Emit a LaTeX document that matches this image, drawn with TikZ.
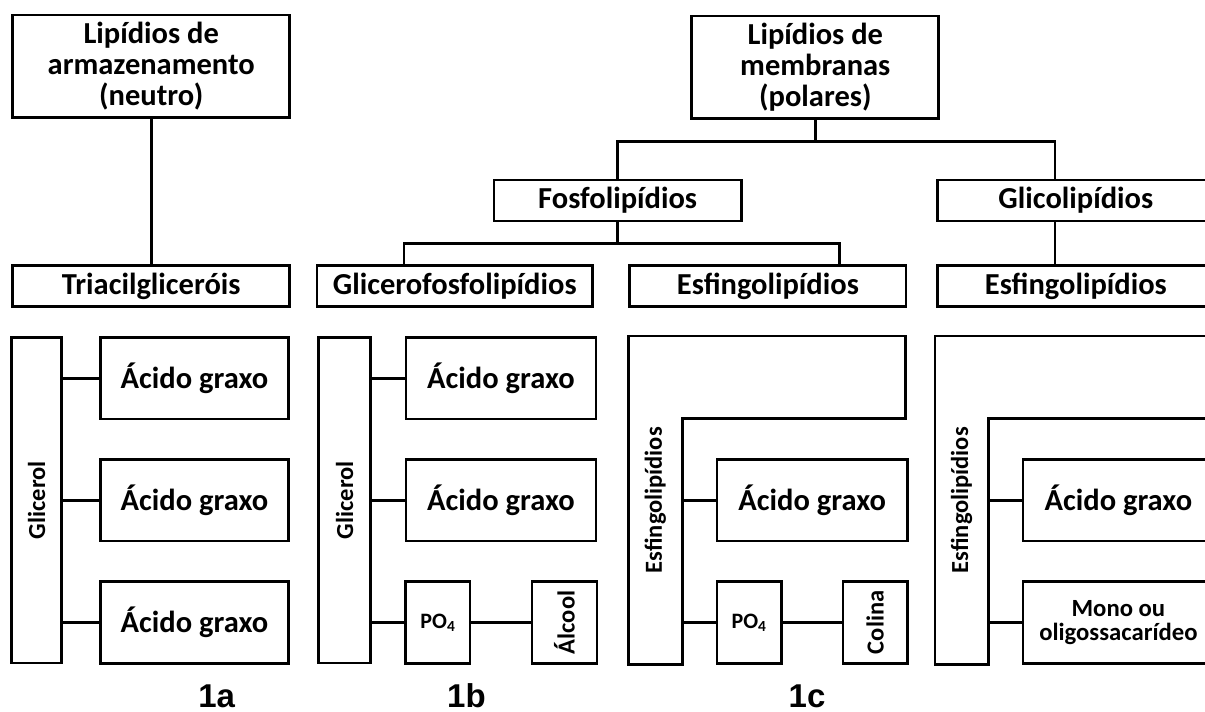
\documentclass[tikz,border=0pt]{standalone}
\usepackage{fontspec}
\setmainfont{Carlito}
\newfontfamily\labelfont{Liberation Sans}
\usetikzlibrary{positioning,calc}
\tikzset{
	big text/.style={font=\bfseries\fontsize{30.5}{31}\selectfont}, % box titles
	small text/.style={font=\bfseries\fontsize{24.5}{24}\selectfont}, % narrow boxes
}

\begin{document}
\begin{tikzpicture}[x=1pt, y=-1pt, line width=2.8pt]
	\tikzstyle{box} = [rectangle, draw=black, inner sep=0pt, text centered, align=center]
	\tikzstyle{head} = [box, big text, minimum height=41pt]
	\tikzstyle{acido} = [box, big text, minimum width=190pt, minimum height=81.5pt]
	\tikzstyle{bar} = [box, small text, minimum width=51pt, minimum height=325.7pt]
	\tikzstyle{small} = [box, small text, minimum width=64.5pt, minimum height=81.5pt]
	\tikzstyle{fosfato} = [small, minimum width=64.3pt, font=\bfseries\fontsize{22}{22}\selectfont]
	\tikzstyle{label} = [font=\labelfont\bfseries\fontsize{33}{33}\selectfont, inner sep=0pt, anchor=base]
	\useasboundingbox (0,0) rectangle (1205,712);
	\clip (0,0) rectangle (1205,712);
	% upper tree
	\node (armazen)[box, big text, minimum width=277pt, minimum height=102.3pt] at (151.2, 66.2) {Lipídios de\\armazenamento\\(neutro)};
	\node (membranas)[box, big text, minimum width=247pt, minimum height=102.3pt] at (815.3, 67.2) {Lipídios de\\membranas\\(polares)};
	\node (fosfo)[head, minimum width=247.2pt] at (617.6, 200.4) {Fosfolipídios};
	\node (glico)[head, minimum width=276.3pt] at (1075.8, 200.4) {Glicolipídios};
	\node (triacil)[head, minimum width=277pt] at (151.2, 286.2) {Triacilgliceróis};
	\node (glicerofosfo)[head, minimum width=275.4pt] at (454.7, 286.2) {Glicerofosfolipídios};
	\node (esfingo)[head, minimum width=276.3pt] at (767.9, 286.2) {Esfingolipídios};
	\node (esfingo2)[head, minimum width=276.3pt] at (1075.8, 286.2) {Esfingolipídios};
	\coordinate (membranas fork) at (815.3, 141.7);
	\coordinate (fosfo fork) at (617.6, 243.3);
	\coordinate (glicerofosfo x) at (404, 0);
	\coordinate (esfingo x) at (839.2, 0);
	\coordinate (glico x) at (1055, 0);
	\draw (armazen) -- (triacil);
	\draw (membranas) -- (membranas fork) -| (fosfo);
	\draw (membranas fork) -| (glico.north -| glico x);
	\draw (fosfo) -- (fosfo fork);
	\draw (glicerofosfo.north -| glicerofosfo x) |- (fosfo fork) -| (esfingo.north -| esfingo x);
	\draw (glico.south -| glico x) -- (esfingo2.north -| glico x);
	% 1a
	\node (glicerolA)[bar, minimum width=50pt] at (36.7, 500.2) {\rotatebox{90}{Glicerol}};
	\node (acidoA1)[acido, minimum width=187.6pt] at (194.5, 378.2) {Ácido graxo};
	\node (acidoA2)[acido, minimum width=187.6pt] at (194.5, 500.3) {Ácido graxo};
	\node (acidoA3)[acido, minimum width=187.6pt] at (194.5, 622.4) {Ácido graxo};
	\draw (glicerolA.east |- acidoA1) -- (acidoA1);
	\draw (glicerolA.east |- acidoA2) -- (acidoA2);
	\draw (glicerolA.east |- acidoA3) -- (acidoA3);
	% 1b
	\node (glicerolB)[bar, minimum width=52pt] at (344.5, 500.2) {\rotatebox{90}{Glicerol}};
	\node (acidoB1)[acido] at (501, 378.2) {Ácido graxo};
	\node (acidoB2)[acido] at (501, 500.3) {Ácido graxo};
	\node (fosfatoB)[fosfato] at (437.9, 622.4) {PO\textsubscript{4}};
	\node (alcool)[small, minimum width=65pt] at (564.5, 622.4) {\rotatebox{90}{Álcool}};
	\draw (glicerolB.east |- acidoB1) -- (acidoB1);
	\draw (glicerolB.east |- acidoB2) -- (acidoB2);
	\draw (glicerolB.east |- fosfatoB) -- (fosfatoB) -- (alcool);
	% 1c
	\node (esfingoC)[bar, draw=none, minimum width=51.3pt] at (655.3, 500.2) {\rotatebox{90}{Esfingolipídios}};
	\draw (esfingoC.south west) -- (esfingoC.north west) -- ++(277.5,0) -- ++(0,82.3) -| (esfingoC.south east) -- cycle;
	\node (acidoC)[acido, minimum width=190.5pt] at (812.2, 500.3) {Ácido graxo};
	\node (fosfatoC)[fosfato] at (749.1, 622.4) {PO\textsubscript{4}};
	\node (colina)[small] at (875.2, 622.4) {\rotatebox{90}{Colina}};
	\draw (esfingoC.east |- acidoC) -- (acidoC);
	\draw (esfingoC.east |- fosfatoC) -- (fosfatoC) -- (colina);
	% 1d
	\node (esfingoD)[bar, draw=none, minimum width=50.6pt] at (961.7, 500.2) {\rotatebox{90}{Esfingolipídios}};
	\draw (esfingoD.south west) -- (esfingoD.north west) -- ++(277.5,0) -- ++(0,82.3) -| (esfingoD.south east) -- cycle;
	\node (acidoD)[acido, minimum width=190.8pt] at (1118.4, 500.3) {Ácido graxo};
	\node (mono)[acido, minimum width=190.8pt, font=\bfseries\fontsize{24.7}{23.5}\selectfont] at (1118.4, 622.4) {Mono ou\\oligossacarídeo};
	\draw (esfingoD.east |- acidoD) -- (acidoD);
	\draw (esfingoD.east |- mono) -- (mono);
	% labels
	\node (labelA)[label] at (216.7, 707) {1a};
	\node (labelB)[label] at (466.5, 707) {1b};
	\node (labelC)[label] at (807, 707) {1c};
\end{tikzpicture}
\end{document}
